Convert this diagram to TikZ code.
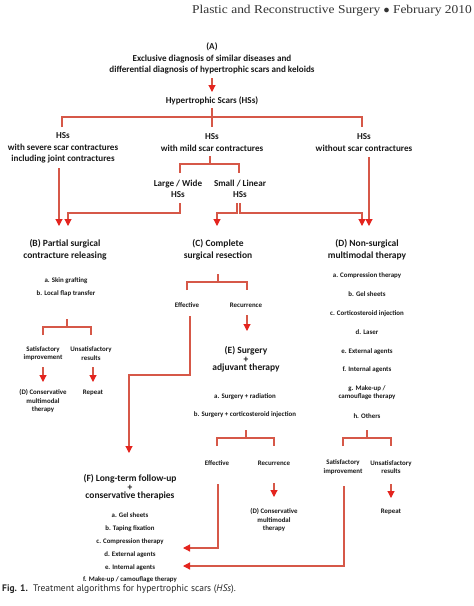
\documentclass[tikz,border=0pt]{standalone}
\usepackage{fontspec}
\setmainfont{Carlito}
\newfontfamily\hdrfont[FakeStretch=1.12]{Liberation Serif}
\newfontfamily\capfont{PT Sans}
\usetikzlibrary{arrows.meta}
\definecolor{linecol}{RGB}{214,88,72}
\definecolor{tipcol}{RGB}{228,36,30}
\definecolor{txtcol}{RGB}{25,25,25}
\tikzset{
  conn/.style={draw=linecol, line width=1.1pt},
  arr/.style={conn, -{Triangle[length=7pt,width=7pt,color=tipcol]}},
  lbl/.style={align=center, inner sep=0pt, text=txtcol, font=\bfseries\fontsize{9.1}{11.3}\selectfont},
  head/.style={align=center, inner sep=0pt, text=txtcol, font=\bfseries\fontsize{9.5}{12}\selectfont},
  headE/.style={align=center, inner sep=0pt, text=txtcol, font=\bfseries\fontsize{9.5}{8.6}\selectfont},
  small/.style={align=center, inner sep=0pt, text=txtcol, font=\bfseries\fontsize{6.9}{8.4}\selectfont},
  listF/.style={align=center, inner sep=0pt, text=txtcol, font=\bfseries\fontsize{6.85}{12.8}\selectfont},
}
\begin{document}
\begin{tikzpicture}[x=1pt,y=-1pt]
\path[use as bounding box, fill=white] (0,0) rectangle (474,606);
% header and caption
\node[anchor=base east, inner sep=0pt, text=black!80, font=\hdrfont\fontsize{12}{14}\selectfont] (hdr) at (472,13) {Plastic and Reconstructive Surgery $\bullet$ February 2010};
\node[anchor=west, inner sep=0pt, text=black!85, font=\capfont\fontsize{9.5}{11}\selectfont] (cap) at (2,589) {\textbf{Fig. 1.}\ \ Treatment algorithms for hypertrophic scars (\textit{HSs}).};
% top
\node[lbl] (A) at (212,58.5) {(A)\\Exclusive diagnosis of similar diseases and\\differential diagnosis of hypertrophic scars and keloids};
\node[lbl] (hss) at (212,101) {Hypertrophic Scars (HSs)};
\node[lbl] (sev) at (63,148) {HSs\\with severe scar contractures\\including joint contractures};
\node[lbl] (mild) at (212,142.5) {HSs\\with mild scar contractures};
\node[lbl] (none) at (364,142.5) {HSs\\without scar contractures};
\node[lbl] (large) at (178,188.5) {Large / Wide\\HSs};
\node[lbl] (smalllin) at (240,188.5) {Small / Linear\\HSs};
% headings
\node[head] (B) at (65,250) {(B) Partial surgical\\contracture releasing};
\node[head] (C) at (218,250) {(C) Complete\\surgical resection};
\node[head] (D) at (367,250) {(D) Non-surgical\\multimodal therapy};
% B branch
\node[small, font=\bfseries\fontsize{6.9}{13}\selectfont] (Bl) at (66,287.5) {a. Skin grafting\\b. Local flap transfer};
\node[small] (Bsat) at (43,353.5) {Satisfactory\\improvement};
\node[small] (Bun) at (91,353.5) {Unsatisfactory\\results};
\node[small] (Bcons) at (43,401) {(D) Conservative\\multimodal\\therapy};
\node[small] (Brep) at (93,393) {Repeat};
% C branch
\node[small] (Ceff) at (187,305) {Effective};
\node[small] (Crec) at (246,305) {Recurrence};
\node[headE] (E) at (246,359.5) {(E) Surgery\\+\\adjuvant therapy};
\node[small] (Ea) at (245,397) {a. Surgery + radiation};
\node[small] (Eb) at (245,415) {b. Surgery + corticosteroid injection};
\node[small] (Eeff) at (217,463) {Effective};
\node[small] (Erec) at (274,463) {Recurrence};
\node[small] (Econs) at (274,520) {(D) Conservative\\multimodal\\therapy};
% D branch
\node[small] (Da) at (367,276) {a. Compression therapy};
\node[small] (Db) at (367,294) {b. Gel sheets};
\node[small] (Dc) at (367,314) {c. Corticosteroid injection};
\node[small] (Dd) at (367,332) {d. Laser};
\node[small] (De) at (367,352) {e. External agents};
\node[small] (Df) at (367,370) {f. Internal agents};
\node[small] (Dg) at (367,392.5) {g. Make-up /\\camouflage therapy};
\node[small] (Dh) at (367,416) {h. Others};
\node[small] (Dsat) at (343,467) {Satisfactory\\improvement};
\node[small] (Dun) at (391,467) {Unsatisfactory\\results};
\node[small] (Drep) at (391,512) {Repeat};
% F
\node[headE] (F) at (130,487.5) {(F) Long-term follow-up\\+\\conservative therapies};
\node[listF] (Fl) at (130,548) {a. Gel sheets\\b. Taping fixation\\c. Compression therapy\\d. External agents\\e. Internal agents\\f. Make-up / camouflage therapy};
% coordinates
\coordinate (Fin1) at (183,548);
\coordinate (Fin2) at (183,566);
% connectors
\draw[arr] (212,78) -- (212,92);
\draw[conn] (212,108) -- (212,127);
\draw[conn] (62,127) -- (62,117) -- (362,117) -- (362,127);
\draw[conn] (210,156) -- (210,164);
\draw[conn] (180,173) -- (180,164) -- (239,164) -- (239,173);
\draw[arr] (59,168) -- (59,226);
\draw[arr] (180,203) -- (180,213) -- (68,213) -- (68,226);
\draw[arr] (237,203) -- (237,213) -- (217,213) -- (217,226);
\draw[arr] (240,203) -- (240,213) -- (362,213) -- (362,226);
\draw[arr] (369,157) -- (369,226);
% B
\draw[conn] (67,319) -- (67,327);
\draw[conn] (43,335) -- (43,327) -- (91,327) -- (91,335);
\draw[arr] (43,367) -- (43,382);
\draw[arr] (93,367) -- (93,382);
% C
\draw[conn] (218,274) -- (218,282);
\draw[conn] (187,290) -- (187,282) -- (247,282) -- (247,290);
\draw[arr] (190,316) -- (190,375) -- (129,375) -- (129,453);
\draw[arr] (247,315) -- (247,331);
% E
\draw[conn] (246,430) -- (246,438);
\draw[conn] (217,446) -- (217,438) -- (274,438) -- (274,446);
\draw[arr] (218,484) -- (218,548) -- (Fin1);
\draw[arr] (274,483) -- (274,497);
% D
\draw[conn] (367,430) -- (367,438);
\draw[conn] (343,446) -- (343,438) -- (391,438) -- (391,446);
\draw[arr] (344,486) -- (344,566) -- (Fin2);
\draw[arr] (391,484) -- (391,498);
\end{tikzpicture}
\end{document}
